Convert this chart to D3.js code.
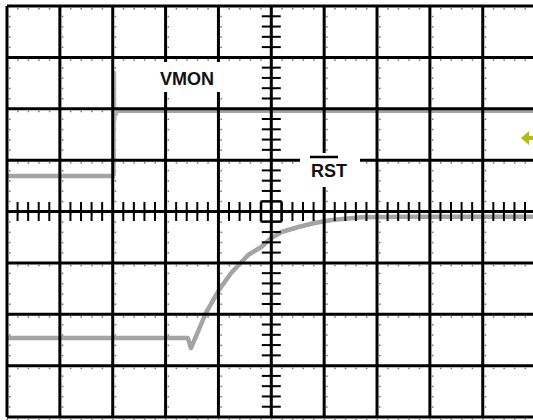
<!DOCTYPE html>
<html>
<head>
<meta charset="utf-8">
<script src="https://cdn.jsdelivr.net/npm/d3@7"></script>
<style>
  body { margin: 0; background: #fff; }
  svg { display: block; }
</style>
</head>
<body>
<svg></svg>
<script>
var width = 533;
var height = 420;

// screen in divisions: 10 horizontal, 8 vertical
var xDivs = d3.range(-5, 6);
var yDivs = d3.range(-4, 5);

// VMON trace (divisions)
var vmonT = [-5, -4, -3, -2.96];
var vmonV = [0.69, 0.69, 0.69, 0.69];
var vmonEdgeT = [-2.96, -2.955, -2.95, -2.94, -2.92, -2.9, -2.87];
var vmonEdgeV = [0.69, 2.72, 1.75, 2.02, 1.88, 1.98, 1.96];
var vmonHighT = [-2.9, -2, -1, 0, 1, 2, 3, 4, 5];
var vmonHighV = [1.96, 1.96, 1.96, 1.96, 1.96, 1.96, 1.96, 1.96, 1.96];

// RST trace (divisions)
var rstT = [-5, -3, -1.58, -1.52, -1.236, -0.989, -0.760, -0.437, -0.190, 0.0, 0.190, 0.513, 0.817, 1.141, 1.711, 2.5, 3.5, 5];
var rstV = [-2.46, -2.46, -2.46, -2.66, -1.975, -1.527, -1.196, -0.846, -0.691, -0.516, -0.399, -0.302, -0.224, -0.165, -0.11, -0.1, -0.1, -0.1];

var svg = d3.select("svg")
  .attr("width", width)
  .attr("height", height);

var x = d3.scaleLinear().domain([-5, 5]).range([7, 535.6]);
var y = d3.scaleLinear().domain([-4, 4]).range([417, 6]);

// minor dots along every grid line
var minorX = d3.range(-5, 5.01, 0.2);
var minorY = d3.range(-4, 4.01, 0.2);
var dots = svg.append("g").attr("fill", "#777");
yDivs.forEach(function (v) {
  dots.selectAll(null).data(minorX).enter().append("rect")
    .attr("x", function (d) { return x(d) - 0.5; })
    .attr("y", y(v) + 2)
    .attr("width", 1.5).attr("height", 1.5);
});
xDivs.forEach(function (t) {
  dots.selectAll(null).data(minorY).enter().append("rect")
    .attr("x", x(t) + 2)
    .attr("y", function (d) { return y(d) - 0.5; })
    .attr("width", 1.5).attr("height", 1.5);
});

// traces (under the graticule)
var line = d3.line()
  .x(function (d) { return x(d[0]); })
  .y(function (d) { return y(d[1]); });

var traces = svg.append("g")
  .attr("fill", "none")
  .attr("stroke", "#a4a4a4")
  .attr("stroke-linejoin", "round");

traces.append("path")
  .attr("d", line(d3.zip(vmonEdgeT, vmonEdgeV)))
  .attr("stroke", "#b4b4b4")
  .attr("stroke-width", 2);
traces.append("path")
  .attr("d", line(d3.zip(vmonT, vmonV)))
  .attr("stroke-width", 4.5);
traces.append("path")
  .attr("d", line(d3.zip(vmonHighT, vmonHighV)))
  .attr("stroke-width", 4.5);
traces.append("path")
  .attr("d", line(d3.zip(rstT, rstV)))
  .attr("stroke-width", 4.5);

// grid
var grid = svg.append("g").attr("stroke", "#000").attr("stroke-width", 3);
grid.selectAll(".vl").data(xDivs).enter().append("line")
  .attr("x1", function (d) { return x(d); })
  .attr("x2", function (d) { return x(d); })
  .attr("y1", y(4)).attr("y2", y(-4));
grid.selectAll(".hl").data(yDivs).enter().append("line")
  .attr("y1", function (d) { return y(d); })
  .attr("y2", function (d) { return y(d); })
  .attr("x1", x(-5)).attr("x2", x(5));

// centre axis ticks
var tickX = minorX.filter(function (d) { return Math.abs(d - Math.round(d)) > 0.01; });
var tickY = minorY.filter(function (d) { return Math.abs(d - Math.round(d)) > 0.01; });
var ticks = svg.append("g").attr("stroke", "#000").attr("stroke-width", 2);
ticks.selectAll(".tx").data(tickX).enter().append("line")
  .attr("x1", function (d) { return x(d); })
  .attr("x2", function (d) { return x(d); })
  .attr("y1", y(0) - 9.5).attr("y2", y(0) + 9.5);
ticks.selectAll(".ty").data(tickY).enter().append("line")
  .attr("y1", function (d) { return y(d); })
  .attr("y2", function (d) { return y(d); })
  .attr("x1", x(0) - 9.5).attr("x2", x(0) + 9.5);
svg.append("rect")
  .attr("x", x(0) - 10).attr("y", y(0) - 10)
  .attr("width", 20).attr("height", 20)
  .attr("fill", "none").attr("stroke", "#000").attr("stroke-width", 2);

// labels
svg.append("rect").attr("x", 150).attr("y", 62).attr("width", 78).attr("height", 30).attr("fill", "#fff");
svg.append("rect").attr("x", 300).attr("y", 153).attr("width", 60).attr("height", 34).attr("fill", "#fff");

svg.append("text")
  .attr("x", 160).attr("y", 85)
  .attr("font-family", "Liberation Sans, Arial, sans-serif")
  .attr("font-weight", "bold").attr("font-size", "18px")
  .attr("fill", "#111")
  .text("VMON");

svg.append("text")
  .attr("x", 311).attr("y", 177)
  .attr("font-family", "Liberation Sans, Arial, sans-serif")
  .attr("font-weight", "bold").attr("font-size", "18px")
  .attr("fill", "#111")
  .text("RST");
svg.append("line")
  .attr("x1", 310).attr("x2", 338)
  .attr("y1", 157).attr("y2", 157)
  .attr("stroke", "#000").attr("stroke-width", 2.5);

// trigger level marker
svg.append("path")
  .attr("d", "M521,138 L529,131 L529,136 L533,136 L533,140 L529,140 L529,145 Z")
  .attr("fill", "#b8b818");
</script>
</body>
</html>
